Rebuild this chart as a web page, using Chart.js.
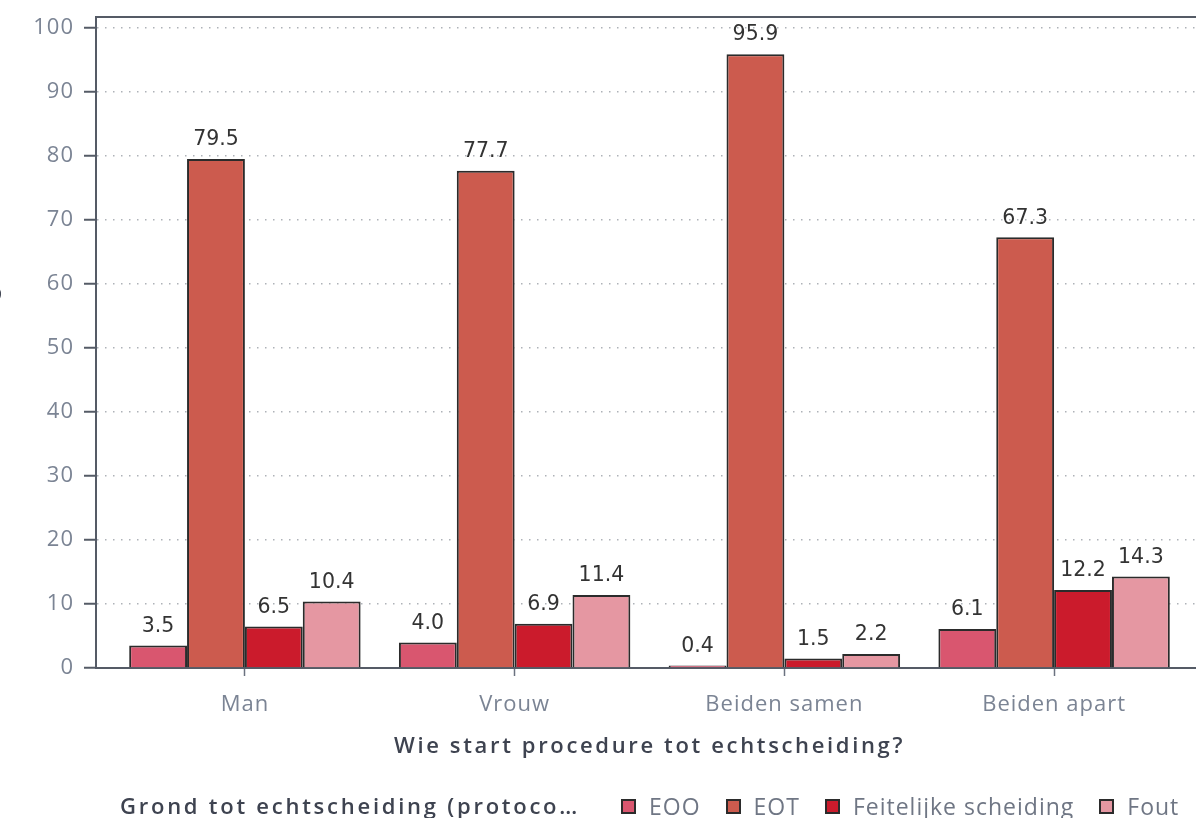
<!DOCTYPE html>
<html>
<head>
<meta charset="utf-8">
<script src="https://cdn.jsdelivr.net/npm/chart.js@4.4.1/dist/chart.umd.min.js"></script>
<style>
  html, body { margin: 0; padding: 0; background: #fff; overflow: hidden; width: 1196px; height: 818px; }
  #wrap { position: absolute; left: -26px; top: 0; width: 1250px; height: 818px; }
  #legend { position: absolute; top: 790px; left: 0; width: 1196px; height: 30px; font-family: "Open Sans", sans-serif; font-size: 23px; letter-spacing: 1px; color: #6f7684; white-space: nowrap; }
  #legend .title { position: absolute; left: 120px; top: 0; font-size: 22px; letter-spacing: 2.75px; font-weight: 600; color: #3e4350; }
  #legend .items { position: absolute; left: 621px; top: 0; display: flex; align-items: center; }
  #legend .item { display: flex; align-items: center; margin-right: 25px; }
  #legend .sw { width: 11px; height: 11px; border: 2px solid #2b2b2b; margin-right: 13px; }
</style>
</head>
<body>
<div id="wrap"><canvas id="c" width="1250" height="818"></canvas></div>
<div id="legend"><span class="title"></span><div class="items"></div></div>
<script>
const categories = ["Man", "Vrouw", "Beiden samen", "Beiden apart"];
const seriesNames = ["EOO", "EOT", "Feitelijke scheiding", "Fout"];
const eooValues = [3.5, 4.0, 0.4, 6.1];
const eotValues = [79.5, 77.7, 95.9, 67.3];
const feitelijkeValues = [6.5, 6.9, 1.5, 12.2];
const foutValues = [10.4, 11.4, 2.2, 14.3];
const seriesColors = ["#d9566f", "#cc5b4e", "#cb1b2c", "#e597a2"];
const xTitle = "Wie start procedure tot echtscheiding?";
const yTitle = "Percentage";
const legendTitle = "Grond tot echtscheiding (protoco\u2026";

const allValues = [eooValues, eotValues, feitelijkeValues, foutValues];

const decor = {
  id: "decor",
  beforeDraw(chart) {
    chart.ctx.letterSpacing = "1px";
  },
  afterDraw(chart) {
    const {ctx, chartArea: a} = chart;
    ctx.save();
    ctx.strokeStyle = "#555b66";
    ctx.lineWidth = 2;
    ctx.beginPath();
    ctx.moveTo(a.left, a.top);
    ctx.lineTo(a.right, a.top);
    ctx.stroke();
    // axis titles
    ctx.letterSpacing = "2.65px";
    ctx.font = "600 22px 'Open Sans'";
    ctx.fillStyle = "#3e4350";
    ctx.textAlign = "center";
    ctx.textBaseline = "middle";
    ctx.fillText(xTitle, (a.left + a.right) / 2, 747);
    ctx.translate(a.left - 122 + 16, (a.top + a.bottom) / 2);
    ctx.rotate(-Math.PI / 2);
    ctx.fillText(yTitle, 0, 0);
    ctx.restore();
    ctx.letterSpacing = "0px";
  }
};

const valueLabels = {
  id: "valueLabels",
  afterDatasetsDraw(chart) {
    const ctx = chart.ctx;
    ctx.save();
    ctx.letterSpacing = "0px";
    ctx.font = "20.5px 'DejaVu Sans'";
    ctx.fillStyle = "#333333";
    ctx.textAlign = "center";
    ctx.textBaseline = "middle";
    chart.data.datasets.forEach((ds, i) => {
      const meta = chart.getDatasetMeta(i);
      meta.data.forEach((el, j) => {
        ctx.fillText(ds.data[j].y.toFixed(1), el.x, el.y - 19);
      });
    });
    ctx.restore();
  }
};

const canvas = document.getElementById("c");
const chart = new Chart(canvas, {
  type: "bar",
  data: {
    datasets: seriesNames.map((name, i) => ({
      label: name,
      data: allValues[i].map((v, k) => ({ x: k, y: v })),
      backgroundColor: seriesColors[i],
      borderColor: "#2b2b2b",
      borderWidth: 2,
      categoryPercentage: 0.858,
      barPercentage: 1.0
    }))
  },
  options: {
    responsive: false,
    maintainAspectRatio: false,
    animation: false,
    layout: { padding: { left: 0, right: 21, top: 17, bottom: 50 } },
    plugins: { legend: { display: false }, tooltip: { enabled: false } },
    scales: {
      x: {
        type: "linear",
        offset: false,
        min: -0.552,
        max: 3.552,
        afterFit(s) { s.height = 100; s.paddingLeft = 0; s.paddingRight = 0; },
        grid: { display: true, drawOnChartArea: false, offset: false, tickLength: 8, tickColor: "#6b7280", tickWidth: 1.5 },
        border: { display: true, color: "#555b66", width: 2 },
        ticks: {
          stepSize: 1, includeBounds: false, autoSkip: false, maxRotation: 0,
          padding: 16, color: "#7b8494", font: { family: "'Open Sans'", size: 22 },
          callback: (v) => (Number.isInteger(v) && categories[v] !== undefined) ? categories[v] : ""
        }
      },
      y: {
        min: 0,
        max: 101.7,
        afterFit(s) { s.width = 122; s.paddingTop = 0; s.paddingBottom = 0; },
        ticks: { stepSize: 10, includeBounds: false, padding: 10, color: "#7b8494", font: { family: "'Open Sans'", size: 22 } },
        grid: { color: "#aeb2b8", lineWidth: 1.5, tickLength: 12, tickColor: "#555b66", tickWidth: 2, tickBorderDash: [] },
        border: { display: true, color: "#555b66", width: 2, dash: [1.5, 6.5] }
      }
    }
  },
  plugins: [decor, valueLabels]
});

// calibrate padding so the plot frame spans canvas x 122..1229 and y 17..668
const target = { left: 122, right: 1229, top: 17, bottom: 668 };
const a0 = chart.chartArea;
const pad = chart.options.layout.padding;
pad.right += (a0.right - target.right);
pad.top += (target.top - a0.top);
pad.bottom += (a0.bottom - target.bottom);
chart.update();

// HTML legend built from the chart's datasets
document.querySelector("#legend .title").textContent = legendTitle;
const itemsEl = document.querySelector("#legend .items");
chart.data.datasets.forEach(ds => {
  const it = document.createElement("div");
  it.className = "item";
  const sw = document.createElement("span");
  sw.className = "sw";
  sw.style.background = ds.backgroundColor;
  const tx = document.createElement("span");
  tx.textContent = ds.label;
  it.appendChild(sw);
  it.appendChild(tx);
  itemsEl.appendChild(it);
});
</script>
</body>
</html>
